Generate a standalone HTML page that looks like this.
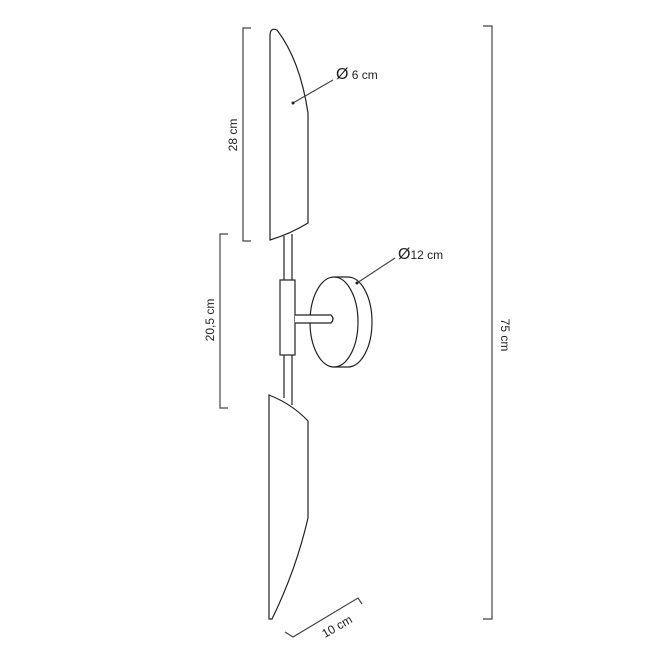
<!DOCTYPE html>
<html><head><style>body{margin:0;background:#fff}svg{display:block}</style></head><body>
<svg width="654" height="654" viewBox="0 0 654 654" xmlns="http://www.w3.org/2000/svg" font-family="Liberation Sans, sans-serif" font-size="12" fill="#222">
<g fill="none" stroke="#222" stroke-width="1.2">
<path d="M270,240 L270,36 Q270,27 277,30 Q300,60 308,113 L308,223 Q290,234 270,240 Z" fill="#fff"/>
<line x1="284" y1="236" x2="284" y2="398"/><line x1="292" y1="234" x2="292" y2="405"/>
<rect x="280" y="280" width="15" height="75" fill="#fff"/>
<path d="M334,277 L348,277 A24,45 0 0 1 348,367 L334,367" fill="#fff"/>
<ellipse cx="334" cy="322" rx="24" ry="45" fill="#fff"/>
<path d="M295,315 L331,315 Q335,319 331,323 L295,323" fill="#fff"/>
<path d="M269,395 Q292,404 308,421 L308,518 Q296,570 272,619 L269,619 Z" fill="#fff"/>
<g stroke="#444">
<path d="M251,28 L243,28 L243,241 L251,241"/>
<path d="M228,234 L220,234 L220,408 L228,408"/>
<path d="M483,26 L492,26 L492,619 L483,619"/>
<path d="M285,632 L293,637 L358,598 L362,604"/>
<line x1="293" y1="103" x2="333" y2="80"/>
<line x1="357" y1="283" x2="395" y2="258"/>
</g>
</g>
<circle cx="293" cy="103" r="1.5"/><circle cx="357" cy="283" r="1.5"/>
<text x="336" y="79"><tspan font-size="16">Ø</tspan> 6 cm</text>
<text x="398" y="259"><tspan font-size="16">Ø</tspan>12 cm</text>
<text transform="translate(237,135) rotate(-90)" text-anchor="middle">28 cm</text>
<text transform="translate(214,320) rotate(-90)" text-anchor="middle">20,5 cm</text>
<text transform="translate(501,335) rotate(90)" text-anchor="middle">75 cm</text>
<text transform="translate(339,630) rotate(-30)" text-anchor="middle">10 cm</text>
</svg>
</body></html>
